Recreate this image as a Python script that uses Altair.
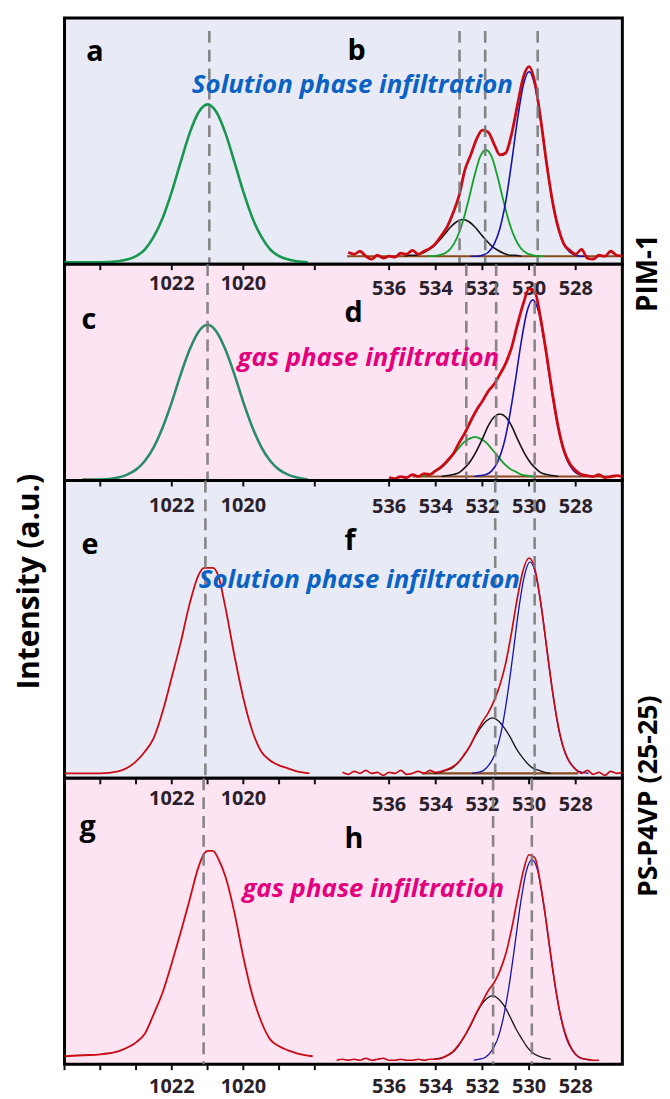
import altair as alt
import pandas as pd

# ---------------- layout ----------------
LEFT_W, RIGHT_W = 272, 290
W = LEFT_W + RIGHT_W
ROW_H = [248, 218, 300, 288]
LEFT_DOMAIN = [1025.0, 1017.45]
RIGHT_DOMAIN = [538.34, 526.0]
BG_BLUE = "#e8eaf6"
BG_PINK = "#fce4f3"
FONT = "Open Sans"

# ---------------- data: Cu 2p (left) ----------------
A_E = [1025.0, 1024.5, 1024.0, 1023.5, 1023.0, 1022.75, 1022.5, 1022.25, 1022.0, 1021.75, 1021.5, 1021.25,
       1021.0, 1020.75, 1020.5, 1020.25, 1020.0, 1019.75, 1019.5, 1019.25, 1019.0, 1018.5, 1018.2]
A_I = [2, 2, 2, 3, 8, 15, 28, 47, 73, 103, 132, 153, 161, 153, 132, 103, 73, 47, 28, 15, 8, 3, 2]

C_E = [1024.5, 1024.0, 1023.5, 1023.25, 1023.0, 1022.75, 1022.5, 1022.25, 1022.0, 1021.75, 1021.5, 1021.25,
       1021.0, 1020.75, 1020.5, 1020.25, 1020.0, 1019.75, 1019.5, 1019.25, 1019.0, 1018.75, 1018.5, 1018.2]
C_I = [1, 1, 3, 6, 11, 20, 34, 54, 79, 107, 132, 150, 157, 150, 132, 107, 79, 54, 34, 20, 11, 6, 3, 1]

E_E = [1025.0, 1024.5, 1024.0, 1023.5, 1023.0, 1022.75, 1022.5, 1022.25, 1022.0, 1021.75, 1021.5, 1021.25,
       1021.1, 1020.85, 1020.7, 1020.5, 1020.25, 1020.0, 1019.75, 1019.5, 1019.25, 1019.0, 1018.75, 1018.5, 1018.15]
E_I = [5, 5, 5, 7, 17, 27, 41, 68, 102, 137, 176, 205, 212, 212, 204, 172, 124, 81, 48, 27, 18, 13, 10, 7, 5]

G_E = [1025.0, 1024.5, 1024.0, 1023.5, 1023.17, 1023.0, 1022.75, 1022.5, 1022.25, 1022.0, 1021.75, 1021.5,
       1021.25, 1021.1, 1021.0, 1020.85, 1020.7, 1020.5, 1020.25, 1020.0, 1019.75, 1019.5, 1019.25, 1019.0,
       1018.75, 1018.5, 1018.06]
G_I = [8, 9, 10, 13, 18, 22, 31, 51, 73, 102, 133, 166, 199, 212, 215, 215, 207, 189, 153, 108, 70, 43, 25, 18,
       14, 11, 8]

# ---------------- data: O 1s (right) ----------------
B_RED_E = [537.75, 537.5, 537.25, 537.0, 536.75, 536.5, 536.25, 536.0, 535.75, 535.5, 535.25, 535.0, 534.75,
           534.5, 534.25, 534.0, 533.75, 533.5, 533.25, 533.0, 532.75, 532.5, 532.25, 532.0, 531.75, 531.5,
           531.25, 531.0, 530.75, 530.5, 530.25, 530.0, 529.75, 529.5, 529.25, 529.0, 528.75, 528.5, 528.25,
           528.0, 527.75, 527.5, 527.25, 527.0, 526.75, 526.5, 526.25, 526.0]
B_RED = [12, 10, 13, 8, 5, 9, 6, 8, 7, 11, 10, 14, 10, 13, 16, 21, 29, 38, 52, 69, 95, 110, 126, 135, 133, 121,
         110, 112, 131, 160, 188, 199, 183, 146, 102, 64, 37, 20, 14, 10, 15, 6, 5, 9, 8, 13, 9, 8]
B_BLUE_E = [532.5, 532.25, 532.0, 531.75, 531.5, 531.25, 531.0, 530.75, 530.5, 530.25, 530.0, 529.75, 529.5,
            529.25, 529.0, 528.75, 528.5, 528.25, 528.0, 527.75, 527.5]
B_BLUE = [8, 8, 9, 12, 20, 36, 63, 102, 145, 180, 194, 180, 145, 102, 63, 36, 20, 12, 9, 8, 8]
B_GREEN_E = [534.35, 534.1, 533.85, 533.6, 533.35, 533.1, 532.85, 532.6, 532.35, 532.1, 531.85, 531.6, 531.35,
             531.1, 530.85, 530.6, 530.35, 530.1, 529.85, 529.6, 529.35]
B_GREEN = [8, 8, 9, 11, 16, 26, 42, 64, 88, 108, 115, 108, 88, 64, 42, 26, 16, 11, 9, 8, 8]
B_BLACK_E = [535.34, 535.09, 534.84, 534.59, 534.34, 534.09, 533.84, 533.59, 533.34, 533.09, 532.84, 532.59,
             532.34, 532.09, 531.84, 531.59, 531.34, 531.09, 530.84, 530.59, 530.34]
B_BLACK = [8, 9, 9, 11, 14, 18, 24, 31, 38, 43, 45, 43, 38, 31, 24, 18, 14, 11, 9, 9, 8]
B_BASE_E, B_BASE = [537.8, 526.0], [8, 8]

D_RED_E = [536.0, 535.75, 535.5, 535.25, 535.0, 534.75, 534.5, 534.25, 534.0, 533.75, 533.5, 533.25, 533.0,
           532.75, 532.5, 532.25, 532.0, 531.75, 531.5, 531.25, 531.0, 530.75, 530.5, 530.25, 530.0, 529.75,
           529.5, 529.25, 529.0, 528.75, 528.5, 528.25, 528.0, 527.75, 527.5, 527.25, 527.0, 526.75, 526.5,
           526.25, 526.0]
D_RED = [3, 2, 4, 3, 6, 4, 7, 6, 10, 14, 20, 27, 38, 48, 60, 71, 80, 90, 97, 107, 118, 134, 157, 178, 193, 190,
         163, 127, 88, 54, 30, 17, 10, 6, 5, 4, 6, 3, 4, 5, 4]
D_BLUE_E = [532.34, 532.09, 531.84, 531.59, 531.34, 531.09, 530.84, 530.59, 530.34, 530.09, 529.84, 529.59,
            529.34, 529.09, 528.84, 528.59, 528.34, 528.09, 527.84, 527.59, 527.34]
D_BLUE = [4, 5, 6, 10, 19, 36, 64, 100, 139, 170, 182, 170, 139, 100, 64, 36, 19, 10, 6, 5, 4]
D_BLACK_E = [533.75, 533.5, 533.25, 533.0, 532.75, 532.5, 532.25, 532.0, 531.75, 531.5, 531.25, 531.0, 530.75,
             530.5, 530.25, 530.0, 529.75, 529.5, 529.25, 529.0, 528.75]
D_BLACK = [4, 5, 6, 8, 13, 20, 30, 42, 55, 64, 67, 64, 55, 42, 30, 20, 13, 8, 6, 5, 4]
D_GREEN_E = [534.82, 534.57, 534.32, 534.07, 533.82, 533.57, 533.32, 533.07, 532.82, 532.57, 532.32, 532.07,
             531.82, 531.57, 531.32, 531.07, 530.82, 530.57, 530.32, 530.07, 529.82]
D_GREEN = [4, 5, 6, 9, 12, 17, 24, 31, 38, 42, 44, 42, 38, 31, 24, 17, 12, 9, 6, 5, 4]
D_BASE_E, D_BASE = [535.0, 526.3], [4, 4]

F_RED_E = [538.0, 537.75, 537.5, 537.25, 537.0, 536.75, 536.5, 536.25, 536.0, 535.75, 535.5, 535.25, 535.0,
           534.75, 534.5, 534.25, 534.0, 533.75, 533.5, 533.25, 533.0, 532.75, 532.5, 532.25, 532.0, 531.75,
           531.5, 531.25, 531.0, 530.75, 530.5, 530.25, 530.0, 529.75, 529.5, 529.25, 529.0, 528.75, 528.5,
           528.25, 528.0, 527.75, 527.5, 527.25, 527.0, 526.75, 526.5, 526.25, 526.0]
F_RED = [6, 4, 7, 5, 8, 5, 6, 3, 6, 5, 8, 4, 5, 7, 5, 8, 6, 7, 9, 12, 17, 25, 34, 46, 57, 66, 78, 94, 116, 147,
         182, 210, 222, 211, 177, 133, 89, 53, 29, 16, 9, 5, 8, 4, 6, 3, 7, 5, 6]
F_BLUE_E = [532.45, 532.2, 531.95, 531.7, 531.45, 531.2, 530.95, 530.7, 530.45, 530.2, 529.95, 529.7, 529.45,
            529.2, 528.95, 528.7, 528.45, 528.2, 527.95, 527.7, 527.45]
F_BLUE = [5, 6, 8, 14, 25, 46, 80, 123, 169, 204, 218, 204, 169, 123, 80, 46, 25, 14, 8, 6, 5]
F_BLACK_E = [534.07, 533.82, 533.57, 533.32, 533.07, 532.82, 532.57, 532.32, 532.07, 531.82, 531.57, 531.32,
             531.07, 530.82, 530.57, 530.32, 530.07, 529.82, 529.57, 529.32, 529.07]
F_BLACK = [5, 6, 8, 10, 15, 22, 31, 42, 51, 58, 61, 58, 51, 42, 31, 22, 15, 10, 8, 6, 5]
F_BASE_E, F_BASE = [534.6, 527.9], [5, 5]

H_RED_E = [538.25, 538.0, 537.75, 537.5, 537.25, 537.0, 536.75, 536.5, 536.25, 536.0, 535.75, 535.5, 535.25,
           535.0, 534.75, 534.5, 534.25, 534.0, 533.75, 533.5, 533.25, 533.0, 532.75, 532.5, 532.25, 532.0,
           531.75, 531.5, 531.25, 531.0, 530.75, 530.5, 530.25, 530.0, 529.75, 529.5, 529.25, 529.0, 528.75,
           528.5, 528.25, 528.0, 527.75, 527.5, 527.25, 527.0]
H_RED = [4, 5, 4, 5, 4, 6, 4, 5, 6, 4, 4, 5, 4, 4, 5, 4, 5, 5, 6, 9, 13, 20, 29, 40, 52, 63, 74, 82, 94, 111,
         136, 166, 194, 211, 208, 180, 141, 98, 61, 35, 19, 10, 6, 5, 4, 4]
H_BLUE_E = [532.37, 532.12, 531.87, 531.62, 531.37, 531.12, 530.87, 530.62, 530.37, 530.12, 529.87, 529.62,
            529.37, 529.12, 528.87, 528.62, 528.37, 528.12, 527.87, 527.62, 527.37]
H_BLUE = [4, 5, 7, 13, 24, 45, 77, 118, 161, 194, 206, 194, 161, 118, 77, 45, 24, 13, 7, 5, 4]
H_BLACK_E = [534.07, 533.82, 533.57, 533.32, 533.07, 532.82, 532.57, 532.32, 532.07, 531.82, 531.57, 531.32,
             531.07, 530.82, 530.57, 530.32, 530.07, 529.82, 529.57, 529.32, 529.07]
H_BLACK = [5, 6, 8, 11, 17, 26, 36, 48, 59, 66, 69, 66, 59, 48, 36, 26, 17, 11, 8, 6, 5]

# ---------------- reference lines & ticks ----------------
DASH_L = [[1020.95], [1021.0], [1021.06], [1021.11]]
DASH_R = [[532.98, 531.88, 529.63], [532.69, 531.41, 529.76], [531.45, 529.76], [531.54, 529.88]]
TICKS_L_COARSE = [1024, 1022, 1020, 1018]
TICKS_L_FINE = [1025, 1024, 1023, 1022, 1021, 1020, 1019, 1018]
TICKS_R = [536, 534, 532, 530, 528]
LABELS_L = [1022, 1020]
LABELS_R = [536, 534, 532, 530, 528]

RED = "#cc0a14"
BLUE = "#1414a8"
GREEN = "#14a02a"
BLACK = "#151515"
BROWN = "#8a4a1c"


def xs(side):
    if side == "L":
        sc = alt.Scale(domain=LEFT_DOMAIN, range=[0, LEFT_W], nice=False, zero=False)
    else:
        sc = alt.Scale(domain=RIGHT_DOMAIN, range=[LEFT_W, W], nice=False, zero=False)
    return alt.X("x:Q", scale=sc, axis=None)


def ys(H):
    return alt.Y("y:Q", scale=alt.Scale(domain=[0, H], nice=False, zero=False), axis=None)


def curve(xv, yv, side, H, color, width):
    df = pd.DataFrame({"x": xv, "y": yv})
    return alt.Chart(df).mark_line(color=color, strokeWidth=width, interpolate="monotone").encode(
        x=xs(side), y=ys(H))


def dashes(xv, side, H, top=0):
    df = pd.DataFrame({"x": xv})
    return alt.Chart(df).mark_rule(color="#7a7a7a", strokeWidth=2.6, strokeDash=[12, 7], opacity=0.9).encode(
        x=xs(side), y=alt.value(top), y2=alt.value(H))


def ticks(xv, side, y0, y1):
    df = pd.DataFrame({"x": xv})
    return alt.Chart(df).mark_rule(color="#111111", strokeWidth=2).encode(
        x=xs(side), y=alt.value(y0), y2=alt.value(y1))


def ticklabels(xv, side, ybase):
    df = pd.DataFrame({"x": xv, "t": [str(v) for v in xv]})
    return alt.Chart(df).mark_text(font=FONT, fontSize=20, fontWeight="bold", color="#2a1f2a",
                                   baseline="alphabetic", align="center").encode(
        x=xs(side), y=alt.value(ybase), text="t:N")


def note(text, x, y, size, color="black", style="normal", angle=0, align="left", baseline="alphabetic"):
    df = pd.DataFrame({"t": [text]})
    return alt.Chart(df).mark_text(font=FONT, fontSize=size, fontWeight="bold", fontStyle=style,
                                   color=color, align=align, baseline=baseline, angle=angle).encode(
        x=alt.value(x), y=alt.value(y), text="t:N")


def row(layers, H, bg):
    return alt.layer(*layers).resolve_scale(x="independent").properties(
        width=W, height=H, view=alt.ViewBackground(fill=bg, stroke="black", strokeWidth=3))


SOL = "#0a62c4"
GAS = "#e4007c"
LET = 29
PHASE = 26

# Row 1 : a / b
H1 = ROW_H[0]
row1 = row([
    curve(A_E, A_I, "L", H1, "#17964f", 2.6),
    curve(B_BASE_E, B_BASE, "R", H1, BROWN, 2),
    curve(B_BLACK_E, B_BLACK, "R", H1, BLACK, 1.6),
    curve(B_GREEN_E, B_GREEN, "R", H1, GREEN, 1.8),
    curve(B_BLUE_E, B_BLUE, "R", H1, BLUE, 1.6),
    curve(B_RED_E, B_RED, "R", H1, RED, 2.8),
    dashes(DASH_L[0], "L", H1, top=13),
    dashes(DASH_R[0], "R", H1, top=13),
    note("a", 22, 43, LET),
    note("b", 285, 42, LET),
    note("Solution phase infiltration", 290, 76, PHASE, SOL, "italic", align="center"),
], H1, BG_BLUE)

# Row 2 : c / d
H2 = ROW_H[1]
row2 = row([
    ticks(TICKS_L_COARSE, "L", 0, 6),
    ticks(TICKS_R, "R", 0, 6),
    ticklabels(LABELS_L, "L", 26),
    ticklabels(LABELS_R, "R", 31),
    curve(C_E, C_I, "L", H2, "#2a8c68", 2.6),
    curve(D_BASE_E, D_BASE, "R", H2, BROWN, 2),
    curve(D_GREEN_E, D_GREEN, "R", H2, GREEN, 1.8),
    curve(D_BLACK_E, D_BLACK, "R", H2, BLACK, 1.6),
    curve(D_BLUE_E, D_BLUE, "R", H2, BLUE, 1.6),
    curve(D_RED_E, D_RED, "R", H2, RED, 2.8),
    dashes(DASH_L[1], "L", H2),
    dashes(DASH_R[1], "R", H2),
    note("c", 17, 65, LET),
    note("d", 282, 58, LET),
    note("gas phase infiltration", 306, 103, PHASE, GAS, "italic", align="center"),
    note("PIM-1", W + 27, 9, 28, angle=270, align="center", baseline="middle"),
], H2, BG_PINK)

# Row 3 : e / f
H3 = ROW_H[2]
row3 = row([
    ticks(TICKS_L_COARSE, "L", 0, 6),
    ticks(TICKS_R, "R", 0, 6),
    ticklabels(LABELS_L, "L", 32),
    ticklabels(LABELS_R, "R", 33),
    curve(E_E, E_I, "L", H3, RED, 1.8),
    curve(F_BASE_E, F_BASE, "R", H3, BROWN, 2.4),
    curve(F_BLACK_E, F_BLACK, "R", H3, BLACK, 1.3),
    curve(F_BLUE_E, F_BLUE, "R", H3, BLUE, 1.3),
    curve(F_RED_E, F_RED, "R", H3, RED, 1.7),
    dashes(DASH_L[2], "L", H3),
    dashes(DASH_R[2], "R", H3),
    note("e", 17, 74, LET),
    note("f", 282, 70, LET),
    note("Solution phase infiltration", 297, 108, PHASE, SOL, "italic", align="center"),
    note("Intensity (a.u.)", -35, 102, 30, angle=270, align="center", baseline="middle"),
], H3, BG_BLUE)

# Row 4 : g / h
H4 = ROW_H[3]
row4 = row([
    ticks(TICKS_L_FINE, "L", 0, 6),
    ticks(TICKS_R, "R", 0, 6),
    ticklabels(LABELS_L, "L", 27),
    ticklabels(LABELS_R, "R", 33),
    ticks(TICKS_L_FINE, "L", H4, H4 + 6),
    ticks(TICKS_R, "R", H4, H4 + 6),
    ticklabels(LABELS_L, "L", H4 + 29),
    ticklabels(LABELS_R, "R", H4 + 29),
    curve(G_E, G_I, "L", H4, RED, 1.8),
    curve(H_BLACK_E, H_BLACK, "R", H4, BLACK, 1.3),
    curve(H_BLUE_E, H_BLUE, "R", H4, BLUE, 1.3),
    curve(H_RED_E, H_RED, "R", H4, RED, 1.7),
    dashes(DASH_L[3], "L", H4),
    dashes(DASH_R[3], "R", H4),
    note("g", 15, 58, LET),
    note("h", 282, 70, LET),
    note("gas phase infiltration", 311, 120, PHASE, GAS, "italic", align="center"),
    note("PS-P4VP (25-25)", W + 27, 18, 27, angle=270, align="center", baseline="middle"),
], H4, BG_PINK)

chart = alt.vconcat(row1, row2, row3, row4, spacing=0, bounds="flush",
                    padding={"left": 13, "top": 12, "right": 5, "bottom": 5}).configure(
    background="white")

chart.save("out.html", embed_options={"renderer": "svg", "actions": False})
